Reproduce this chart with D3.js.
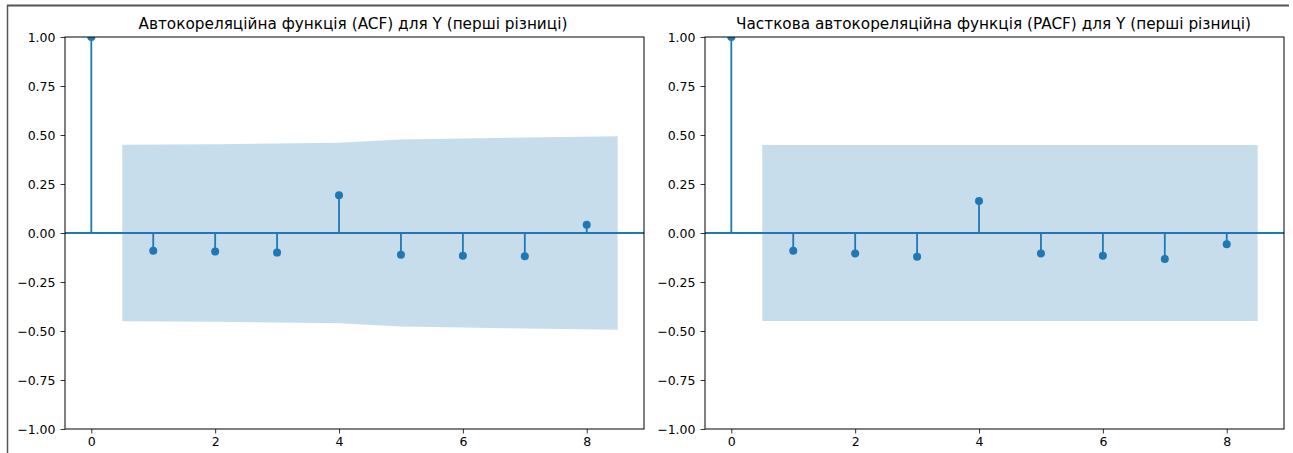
<!DOCTYPE html>
<html>
<head>
<meta charset="utf-8">
<script src="https://cdn.jsdelivr.net/npm/d3@7"></script>
<style>
  body { margin: 0; background: #fff; }
  text { font-family: "DejaVu Sans", sans-serif; fill: #000; }
</style>
</head>
<body>
<script>
// lags and the two correlation series
var lags = [0, 1, 2, 3, 4, 5, 6, 7, 8];
var acfValues = [1.0, -0.090, -0.095, -0.100, 0.192, -0.111, -0.116, -0.119, 0.042];
var pacfValues = [1.0, -0.090, -0.104, -0.121, 0.163, -0.104, -0.116, -0.133, -0.058];

// confidence band (upper edge, lower is the mirror) at band x positions
var bandX = [0.5, 2, 3, 4, 5, 6, 7, 8.5];
var acfBand = [0.450, 0.453, 0.456, 0.460, 0.477, 0.482, 0.487, 0.493];
var pacfBand = [0.449, 0.449, 0.449, 0.449, 0.449, 0.449, 0.449, 0.449];

var xTicks = [0, 2, 4, 6, 8];
var yTicks = [-1.00, -0.75, -0.50, -0.25, 0.00, 0.25, 0.50, 0.75, 1.00];

var titles = [
  "Автокореляційна функція (ACF) для Y (перші різниці)",
  "Часткова автокореляційна функція (PACF) для Y (перші різниці)"
];

var blue = "#1f77b4";
var W = 1293, H = 453;

var svg = d3.select("body").append("svg")
  .attr("width", W).attr("height", H);

// screenshot frame
svg.append("line").attr("x1", 7).attr("x2", 1289).attr("y1", 5.5).attr("y2", 5.5)
  .attr("stroke", "#555").attr("stroke-width", 2);
svg.append("line").attr("x1", 7.5).attr("x2", 7.5).attr("y1", 5).attr("y2", H)
  .attr("stroke", "#555").attr("stroke-width", 1.5);

// title font: size it so "Автокореляційна функція (ACF)" is ~255px wide, as in the picture
var probe = svg.append("text").style("font-size", "16px").text("Автокореляційна функція (ACF)");
var titleSize = 16 * 255 / probe.node().getComputedTextLength();
probe.remove();

function drawPanel(left, values, band, title, titleX, id) {
  var top = 37, bottom = 429, right = left + 579;

  var x = d3.scaleLinear().domain([-0.425, 8.925]).range([left, right]);
  var y = d3.scaleLinear().domain([-1, 1]).range([bottom, top]);

  var g = svg.append("g");

  svg.append("clipPath").attr("id", id)
    .append("rect").attr("x", left).attr("y", top)
    .attr("width", right - left).attr("height", bottom - top);

  var plot = g.append("g").attr("clip-path", "url(#" + id + ")");

  // confidence band
  var area = d3.area()
    .x(function(d, i) { return x(bandX[i]); })
    .y0(function(d) { return y(-d); })
    .y1(function(d) { return y(d); });
  plot.append("path").datum(band)
    .attr("d", area)
    .attr("fill", blue).attr("fill-opacity", 0.25);

  // zero line
  plot.append("line")
    .attr("x1", left).attr("x2", right)
    .attr("y1", y(0)).attr("y2", y(0))
    .attr("stroke", blue).attr("stroke-width", 1.8);

  // stems
  plot.selectAll(".stem").data(values).enter().append("line")
    .attr("x1", function(d, i) { return x(lags[i]); })
    .attr("x2", function(d, i) { return x(lags[i]); })
    .attr("y1", y(0))
    .attr("y2", function(d) { return y(d); })
    .attr("stroke", blue).attr("stroke-width", 1.8);

  plot.selectAll(".dot").data(values).enter().append("circle")
    .attr("cx", function(d, i) { return x(lags[i]); })
    .attr("cy", function(d) { return y(d); })
    .attr("r", 4)
    .attr("fill", blue);

  // axes
  var xAxis = d3.axisBottom(x).tickValues(xTicks).tickSize(4.5).tickPadding(4)
    .tickFormat(d3.format("d"));
  var yAxis = d3.axisLeft(y).tickValues(yTicks).tickSize(4.5).tickPadding(5)
    .tickFormat(d3.format(".2f"));

  var gx = g.append("g").attr("transform", "translate(0," + bottom + ")").call(xAxis);
  var gy = g.append("g").attr("transform", "translate(" + left + ",0)").call(yAxis);
  [gx, gy].forEach(function(a) {
    a.select(".domain").remove();
    a.selectAll("line").attr("stroke", "#000").attr("stroke-width", 0.8);
    a.selectAll("text").style("font-size", "12.5px").attr("fill", "#000");
  });
  gy.selectAll("text").text(function(d) { return d < 0 ? "\u2212" + d3.format(".2f")(-d) : d3.format(".2f")(d); });

  // spines
  g.append("rect")
    .attr("x", left).attr("y", top)
    .attr("width", right - left).attr("height", bottom - top)
    .attr("fill", "none").attr("stroke", "#000").attr("stroke-width", 1);

  g.append("text")
    .attr("x", titleX).attr("y", top - 8)
    .style("font-size", titleSize + "px")
    .text(title);
}

drawPanel(65, acfValues, acfBand, titles[0], 138.5, "clipA");
drawPanel(705, pacfValues, pacfBand, titles[1], 736, "clipB");
</script>
</body>
</html>
